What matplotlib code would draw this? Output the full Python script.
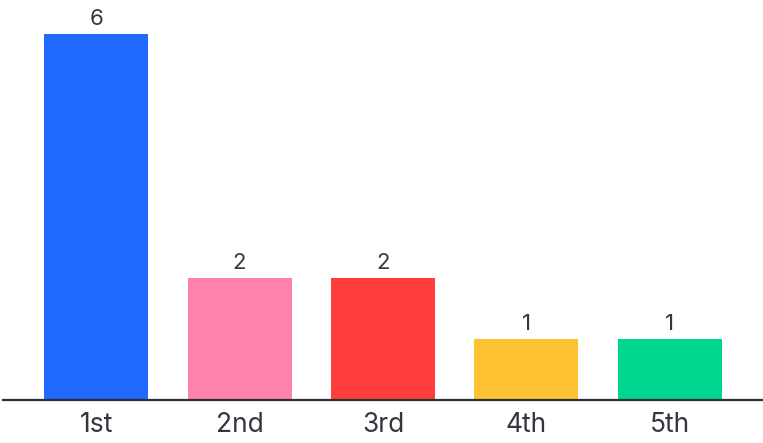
import matplotlib.pyplot as plt

places = ["1st", "2nd", "3rd", "4th", "5th"]
counts = [6, 2, 2, 1, 1]
colors = ["#1F69FF", "#FF82AC", "#FF3D3D", "#FFC233", "#00D68F"]

plt.rcParams["font.family"] = ["Inter", "DejaVu Sans"]

fig = plt.figure(figsize=(7.63, 4.43), dpi=100)
ax = fig.add_axes([3 / 763, 43 / 443, 760 / 763, 400 / 443])

x = range(len(places))
bars = ax.bar(x, counts, width=0.725, color=colors)

for rect, n in zip(bars, counts):
    ax.annotate(str(n), (rect.get_x() + rect.get_width() / 2, rect.get_height()),
                xytext=(0, 6.5), textcoords="offset points",
                ha="center", va="baseline", fontsize=16, color="#33363d")

ax.set_xlim(-0.65, 4.65)
ax.set_ylim(0, 6.55)
ax.set_xticks(list(x))
ax.set_xticklabels(places, fontsize=19, color="#33363d")
ax.tick_params(axis="x", length=0, pad=9)
ax.set_yticks([])

for side in ["top", "right", "left"]:
    ax.spines[side].set_visible(False)
ax.spines["bottom"].set_color("#2b2f36")
ax.spines["bottom"].set_linewidth(1.6)

fig.savefig("out.png", dpi=100)
